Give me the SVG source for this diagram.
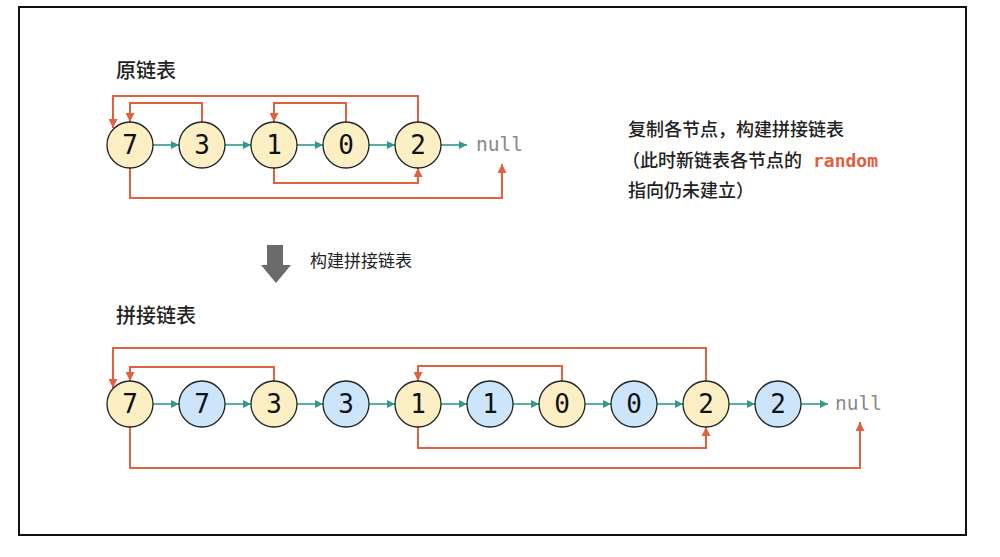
<svg xmlns="http://www.w3.org/2000/svg" width="1000" height="557" viewBox="0 0 1000 557">
<style>
.frame{fill:#fff;stroke:#111;stroke-width:2}
.ny{fill:#fcefc4;stroke:#222;stroke-width:1.3}
.nb{fill:#cde5fb;stroke:#222;stroke-width:1.3}
.num{font-family:"DejaVu Sans Mono","Liberation Mono",monospace;font-size:26px;fill:#111;text-anchor:middle}
.null{font-family:"DejaVu Sans Mono","Liberation Mono",monospace;font-size:19.5px;fill:#888}
.title{font-family:"Noto Sans CJK SC",sans-serif;font-size:20px;font-weight:500;fill:#222}
.note{font-family:"Noto Sans CJK SC",sans-serif;font-size:18px;font-weight:500;fill:#222}
.lbl{font-family:"Noto Sans CJK SC",sans-serif;font-size:17px;fill:#222}
.rnd{font-family:"DejaVu Sans Mono","Liberation Mono",monospace;font-size:18px;font-weight:700;fill:#e0603f}
.nx{stroke:#2e9c88;stroke-width:1.6;fill:none;marker-end:url(#ga)}
.rd{stroke:#e0603f;stroke-width:2;fill:none;marker-end:url(#ra)}
</style>
<defs>
<marker id="ga" viewBox="0 0 10 10" refX="10" refY="5" markerWidth="8" markerHeight="8" markerUnits="userSpaceOnUse" orient="auto"><path d="M0,0 L10,5 L0,10 z" fill="#2e9c88"/></marker>
<marker id="ra" viewBox="0 0 10 10" refX="10" refY="5" markerWidth="9" markerHeight="9" markerUnits="userSpaceOnUse" orient="auto"><path d="M0,0 L10,5 L0,10 z" fill="#e0603f"/></marker>
</defs>
<rect class="frame" x="19" y="7" width="947" height="528"/>

<text class="title" x="116" y="78">原链表</text>
<text class="title" x="116" y="323">拼接链表</text>

<g id="note">
<text class="note" x="628" y="136">复制各节点，构建拼接链表</text>
<text class="note" x="622" y="167">（此时新链表各节点的</text>
<text class="rnd" x="813" y="167">random</text>
<text class="note" x="628" y="197">指向仍未建立）</text>
</g>

<g id="bigarrow">
<path d="M267,245 H283 V265 H291 L276,283 L261,265 H267 Z" fill="#6b6b6b"/>
<text class="lbl" x="310" y="267">构建拼接链表</text>
</g>

<g id="connectors">
<path class="nx" d="M153,145 H179"/>
<path class="nx" d="M225,145 H251"/>
<path class="nx" d="M297,145 H323"/>
<path class="nx" d="M369,145 H395"/>
<path class="nx" d="M441,145 H467"/>
<path class="rd" d="M418,122 V96 H113 V128"/>
<path class="rd" d="M202,122 V103 H130 V122"/>
<path class="rd" d="M346,122 V103 H274 V122"/>
<path class="rd" d="M274,168 V183 H418 V168"/>
<path class="rd" d="M130,168 V198 H502 V164"/>

<path class="nx" d="M153,404 H179"/>
<path class="nx" d="M225,404 H251"/>
<path class="nx" d="M297,404 H323"/>
<path class="nx" d="M369,404 H395"/>
<path class="nx" d="M441,404 H467"/>
<path class="nx" d="M513,404 H539"/>
<path class="nx" d="M585,404 H611"/>
<path class="nx" d="M657,404 H683"/>
<path class="nx" d="M729,404 H755"/>
<path class="nx" d="M801,404 H828"/>
<path class="rd" d="M706,381 V348 H113 V388"/>
<path class="rd" d="M274,381 V367 H130 V381"/>
<path class="rd" d="M562,381 V366 H418 V381"/>
<path class="rd" d="M418,427 V448 H706 V427"/>
<path class="rd" d="M130,427 V468 H860 V422"/>
</g>

<g id="o7"><circle class="ny" cx="130" cy="145" r="23"/><text class="num" x="130" y="154">7</text></g>
<g id="o3"><circle class="ny" cx="202" cy="145" r="23"/><text class="num" x="202" y="154">3</text></g>
<g id="o1"><circle class="ny" cx="274" cy="145" r="23"/><text class="num" x="274" y="154">1</text></g>
<g id="o0"><circle class="ny" cx="346" cy="145" r="23"/><text class="num" x="346" y="154">0</text></g>
<g id="o2"><circle class="ny" cx="418" cy="145" r="23"/><text class="num" x="418" y="154">2</text></g>
<g id="onull"><text class="null" x="476" y="151">null</text></g>

<g id="s7"><circle class="ny" cx="130" cy="404" r="23"/><text class="num" x="130" y="413">7</text></g>
<g id="s7c"><circle class="nb" cx="202" cy="404" r="23"/><text class="num" x="202" y="413">7</text></g>
<g id="s3"><circle class="ny" cx="274" cy="404" r="23"/><text class="num" x="274" y="413">3</text></g>
<g id="s3c"><circle class="nb" cx="346" cy="404" r="23"/><text class="num" x="346" y="413">3</text></g>
<g id="s1"><circle class="ny" cx="418" cy="404" r="23"/><text class="num" x="418" y="413">1</text></g>
<g id="s1c"><circle class="nb" cx="490" cy="404" r="23"/><text class="num" x="490" y="413">1</text></g>
<g id="s0"><circle class="ny" cx="562" cy="404" r="23"/><text class="num" x="562" y="413">0</text></g>
<g id="s0c"><circle class="nb" cx="634" cy="404" r="23"/><text class="num" x="634" y="413">0</text></g>
<g id="s2"><circle class="ny" cx="706" cy="404" r="23"/><text class="num" x="706" y="413">2</text></g>
<g id="s2c"><circle class="nb" cx="778" cy="404" r="23"/><text class="num" x="778" y="413">2</text></g>
<g id="snull"><text class="null" x="835" y="410">null</text></g>
</svg>
